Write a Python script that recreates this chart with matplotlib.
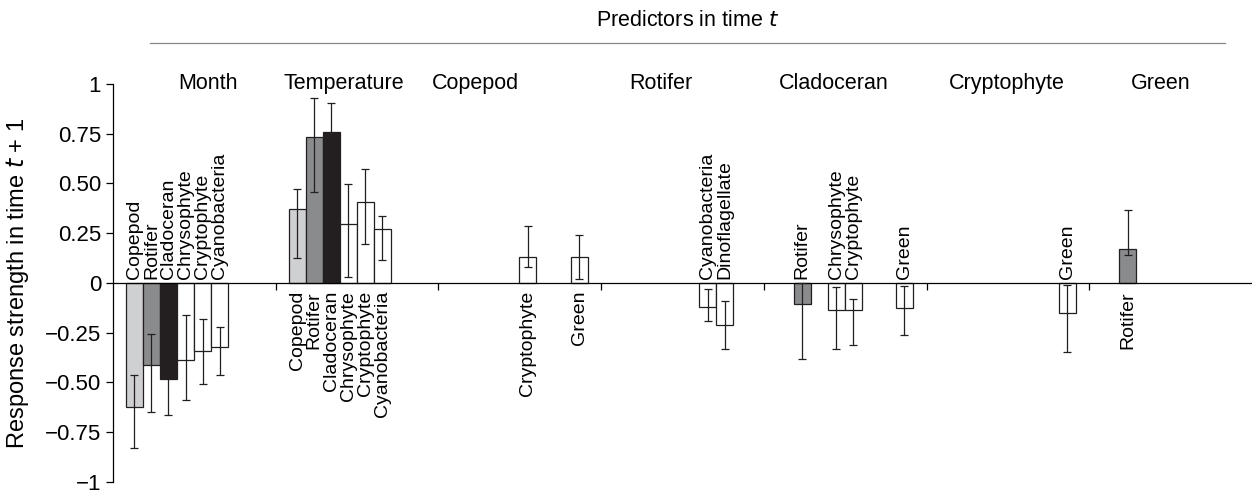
import numpy as np
import matplotlib
matplotlib.use('Agg')
import matplotlib.pyplot as plt

plt.rcParams['font.family'] = ['Liberation Sans', 'DejaVu Sans']

predictors = ['Month', 'Temperature', 'Copepod', 'Rotifer', 'Cladoceran', 'Cryptophyte', 'Green']
species = ['Copepod', 'Rotifer', 'Cladoceran', 'Chrysophyte', 'Cryptophyte',
           'Cyanobacteria', 'Dinoflagellate', 'Green']
species_colors = {'Copepod': '#cfd0d2', 'Rotifer': '#8a8b8d', 'Cladoceran': '#231f20'}

# each bar: predictor index, response species, value, lower and upper error ends
bar_group = [0, 0, 0, 0, 0, 0,
             1, 1, 1, 1, 1, 1,
             2, 2,
             3, 3,
             4, 4, 4, 4,
             5,
             6]
bar_species = ['Copepod', 'Rotifer', 'Cladoceran', 'Chrysophyte', 'Cryptophyte', 'Cyanobacteria',
               'Copepod', 'Rotifer', 'Cladoceran', 'Chrysophyte', 'Cryptophyte', 'Cyanobacteria',
               'Cryptophyte', 'Green',
               'Cyanobacteria', 'Dinoflagellate',
               'Rotifer', 'Chrysophyte', 'Cryptophyte', 'Green',
               'Green',
               'Rotifer']
bar_value = [-0.625, -0.41, -0.48, -0.385, -0.34, -0.32,
             0.37, 0.735, 0.76, 0.296, 0.408, 0.273,
             0.13, 0.13,
             -0.12, -0.21,
             -0.107, -0.135, -0.135, -0.127,
             -0.152,
             0.172]
err_low = [-0.83, -0.646, -0.663, -0.587, -0.51, -0.46,
           0.127, 0.458, 0.6, 0.03, 0.197, 0.116,
           0.078, 0.02,
           -0.19, -0.33,
           -0.38, -0.33, -0.31, -0.26,
           -0.345,
           0.14]
err_high = [-0.46, -0.256, -0.3, -0.16, -0.18, -0.22,
            0.474, 0.929, 0.907, 0.496, 0.575, 0.339,
            0.288, 0.243,
            -0.03, -0.09,
            0.0, -0.02, -0.08, -0.016,
            -0.01,
            0.367]

G = 9.56  # group width in bar widths
# title centres within each group, in bar widths from group start
title_offset = [5.6, 4.0, 2.2, 3.5, 4.1, 4.7, 4.2]

fig = plt.figure(figsize=(12.52, 4.92), dpi=100)
ax = fig.add_axes([113 / 1252, 1 - 482 / 492, 1 - 113 / 1252, (482 - 84) / 492])

for g, sp, v, lo, hi in zip(bar_group, bar_species, bar_value, err_low, err_high):
    x = g * G + 0.76 + species.index(sp) + 0.5
    ax.bar(x, v, width=1.0, color=species_colors.get(sp, 'white'), edgecolor='#231f20', linewidth=0.9, zorder=2)
    ax.errorbar(x, v, yerr=[[v - lo], [hi - v]], fmt='none', ecolor='#231f20', elinewidth=0.9, capsize=3, capthick=0.9, zorder=3)
    if v < 0:
        ax.text(x, 0.02, sp, rotation=90, ha='center', va='bottom', fontsize=14)
    else:
        ax.text(x, -0.04, sp, rotation=90, ha='center', va='top', fontsize=14)

for g, name in enumerate(predictors):
    ax.text(g * G + title_offset[g], 1.0, name, ha='center', va='center', fontsize=15.5)

ax.set_xlim(0, 7 * G)
ax.set_ylim(-1, 1)
ax.spines['top'].set_visible(False)
ax.spines['right'].set_visible(False)
ax.spines['bottom'].set_position(('data', 0))
ax.spines['left'].set_linewidth(0.9)
ax.spines['bottom'].set_linewidth(0.9)
ax.set_xticks([G * k for k in range(1, 7)])
ax.set_xticklabels([])
ax.tick_params(axis='x', direction='out', length=5, width=0.9)
yt = [-1, -0.75, -0.5, -0.25, 0, 0.25, 0.5, 0.75, 1]
ax.set_yticks(yt)
ax.set_yticklabels(['\u22121', '\u22120.75', '\u22120.50', '\u22120.25', '0', '0.25', '0.50', '0.75', '1'], fontsize=16)
ax.tick_params(axis='y', direction='out', length=5, width=0.9)
ax.set_ylabel(r'Response strength in time $t$ + 1', fontsize=17, labelpad=10)

fig.text((150 + 1225) / 2 / 1252, 1 - 20 / 492, r'Predictors in time $t$', ha='center', va='center', fontsize=15.5)
fig.add_artist(plt.Line2D([150 / 1252, 1225 / 1252], [1 - 43 / 492] * 2, color='#888888', linewidth=0.9))

fig.savefig('out.png', dpi=100)
